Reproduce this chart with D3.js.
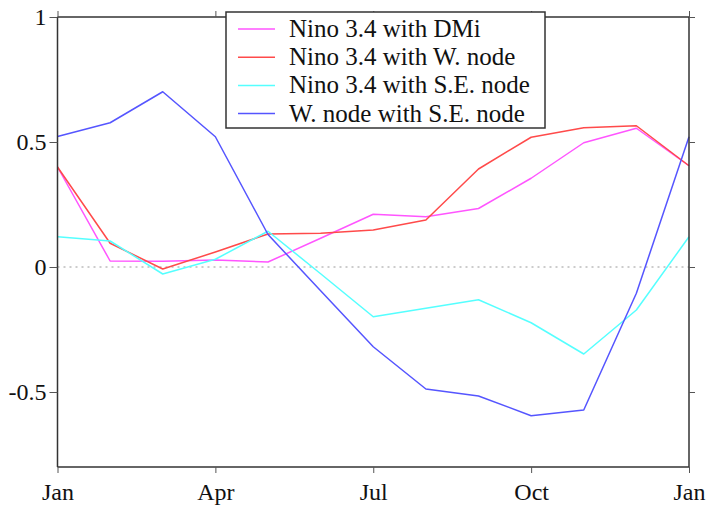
<!DOCTYPE html>
<html>
<head>
<meta charset="utf-8">
<script src="https://cdn.jsdelivr.net/npm/d3@7"></script>
<style>
  html, body { margin: 0; padding: 0; background: #fff; }
  svg text { font-family: "Liberation Serif", "Times New Roman", serif; fill: #111; }
</style>
</head>
<body>
<svg id="chart" width="709" height="510"></svg>
<script>
// Monthly correlations, Jan through the following Jan (13 points)
const months = ["Jan", "Feb", "Mar", "Apr", "May", "Jun", "Jul", "Aug", "Sep", "Oct", "Nov", "Dec", "Jan"];
const tickMonths = [0, 3, 6, 9, 12];
const tickLabels = ["Jan", "Apr", "Jul", "Oct", "Jan"];
const yTicks = [-0.5, 0, 0.5, 1];

const seriesNames = ["Nino 3.4 with DMi", "Nino 3.4 with W. node", "Nino 3.4 with S.E. node", "W. node with S.E. node"];
const seriesColors = ["#ff55ff", "#ff4a4a", "#55ffff", "#5555ff"];

const ninoDmi   = [0.40, 0.024, 0.023, 0.028, 0.020, 0.115, 0.211, 0.201, 0.234, 0.355, 0.497, 0.555, 0.405];
const ninoWnode = [0.40, 0.095, -0.008, 0.060, 0.132, 0.135, 0.148, 0.188, 0.392, 0.519, 0.557, 0.565, 0.405];
const ninoSEnode = [0.121, 0.104, -0.028, 0.031, 0.143, -0.027, -0.199, -0.165, -0.131, -0.223, -0.348, -0.172, 0.121];
const wnodeSEnode = [0.522, 0.577, 0.701, 0.521, 0.130, -0.095, -0.319, -0.488, -0.516, -0.595, -0.572, -0.105, 0.521];

const seriesValues = [ninoDmi, ninoWnode, ninoSEnode, wnodeSEnode];

const margin = { left: 57.5, right: 20, top: 17, bottom: 43 };
const width = 709, height = 510;
const svg = d3.select("#chart");

const x = d3.scaleLinear().domain([0, 12]).range([margin.left, width - margin.right]);
const y = d3.scaleLinear().domain([-0.8, 1]).range([height - margin.bottom, margin.top]);

// Zero reference line
svg.append("line")
  .attr("x1", x(0)).attr("x2", x(12))
  .attr("y1", y(0)).attr("y2", y(0))
  .attr("stroke", "#999").attr("stroke-width", 1)
  .attr("stroke-dasharray", "2,4");

// Data lines
const line = d3.line().x((d, i) => x(i)).y(d => y(d));
seriesValues.forEach((vals, k) => {
  svg.append("path")
    .datum(vals)
    .attr("fill", "none")
    .attr("stroke", seriesColors[k])
    .attr("stroke-width", 1.5)
    .attr("stroke-linejoin", "round")
    .attr("d", line);
});

// Axes on all four sides
const fmtY = d => d === 0 ? "0" : String(d);
const bottomAxis = d3.axisBottom(x).tickValues(tickMonths).tickFormat((d, i) => tickLabels[i]).tickSize(6).tickPadding(10);
const topAxis = d3.axisTop(x).tickValues(tickMonths).tickFormat("").tickSize(6);
const leftAxis = d3.axisLeft(y).tickValues(yTicks).tickFormat(fmtY).tickSize(8).tickPadding(3);
const rightAxis = d3.axisRight(y).tickValues(yTicks).tickFormat("").tickSize(6);

function style(g) {
  g.select(".domain").attr("stroke", "#333").attr("stroke-width", 1.5);
  g.selectAll(".tick line").attr("stroke", "#555").attr("stroke-width", 1);
  g.selectAll("text").attr("font-family", "Liberation Serif, serif").attr("font-size", 24).attr("fill", "#111");
}

svg.append("g").attr("transform", `translate(0,${y(-0.8)})`).call(bottomAxis).call(style)
  .call(g => g.select(".domain").attr("d", `M${x(0)},0H${x(12)}`));
svg.append("g").attr("transform", `translate(0,${y(1)})`).call(topAxis).call(style)
  .call(g => g.select(".domain").attr("d", `M${x(0)},0H${x(12)}`));
svg.append("g").attr("transform", `translate(${x(0)},0)`).call(leftAxis).call(style)
  .call(g => g.select(".domain").attr("d", `M0,${y(-0.8)}V${y(1)}`));
svg.append("g").attr("transform", `translate(${x(12)},0)`).call(rightAxis).call(style)
  .call(g => g.select(".domain").attr("d", `M0,${y(-0.8)}V${y(1)}`));

// Legend
const legend = svg.append("g").attr("transform", "translate(226,12)");
legend.append("rect")
  .attr("x", 0).attr("y", 0).attr("width", 319).attr("height", 116)
  .attr("fill", "#fff").attr("stroke", "#333").attr("stroke-width", 1.5);
seriesNames.forEach((name, k) => {
  const cy = 17 + k * 28.2;
  legend.append("line")
    .attr("x1", 12).attr("x2", 49).attr("y1", cy).attr("y2", cy)
    .attr("stroke", seriesColors[k]).attr("stroke-width", 1.5);
  legend.append("text")
    .attr("x", 63).attr("y", cy + 8)
    .attr("font-size", 25)
    .text(name);
});
</script>
</body>
</html>
